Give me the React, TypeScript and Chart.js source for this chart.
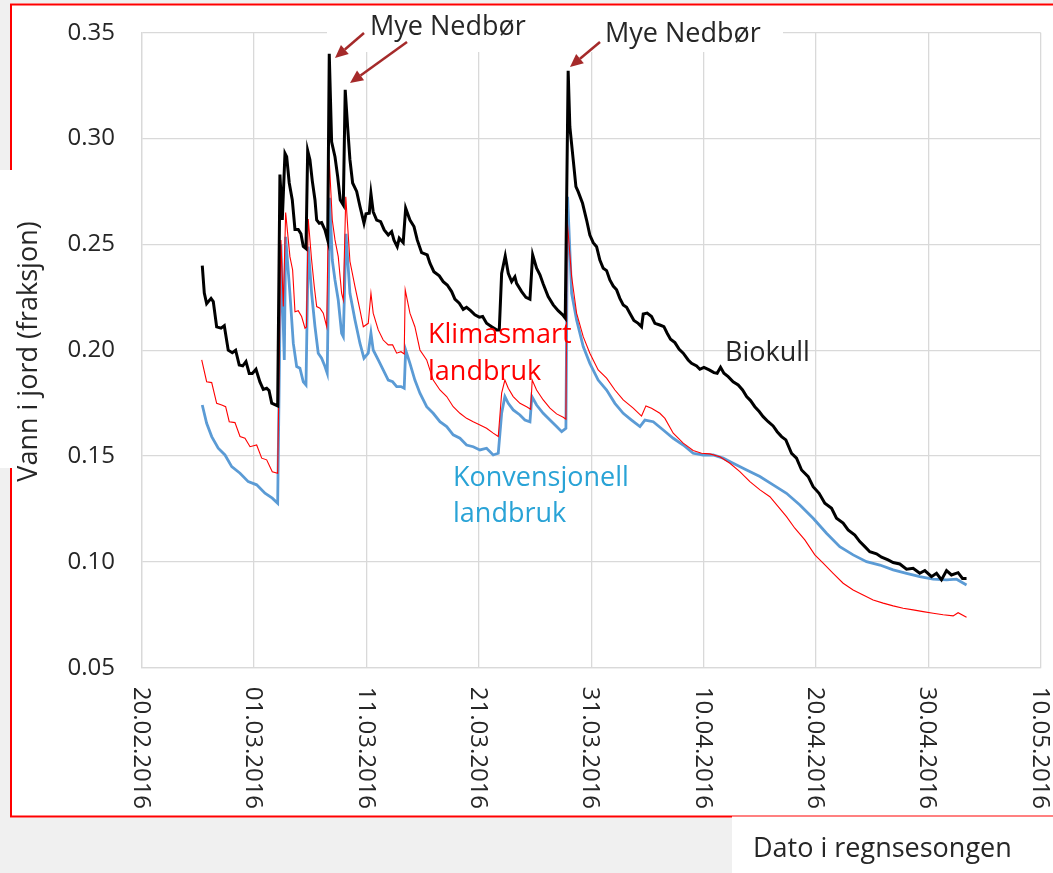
import { useEffect, useRef } from "react";
import { Chart, registerables } from "chart.js";

Chart.register(...registerables);

const W = 1053;
const H = 873;

// x = days since 20.02.2016 00:00
const X_TICK_LABELS = [
  "20.02.2016", "01.03.2016", "11.03.2016", "21.03.2016", "31.03.2016",
  "10.04.2016", "20.04.2016", "30.04.2016", "10.05.2016",
];

const BIOKULL_DAYS = [5.39,5.57,5.78,6.17,6.37,6.67,7.06,7.35,7.70,8.06,8.36,8.68,8.99,9.28,9.57,9.84,10.17,10.52,10.82,11.12,11.33,11.57,12.10,12.30,12.51,12.75,12.90,13.13,13.40,13.64,13.93,14.17,14.38,14.62,14.77,14.97,15.18,15.42,15.57,15.80,16.01,16.31,16.55,16.69,16.90,17.20,17.44,17.67,17.94,18.11,18.33,18.53,18.77,19.13,19.42,19.78,19.96,20.25,20.40,20.60,20.91,21.26,21.58,21.94,22.24,22.45,22.74,22.92,23.27,23.49,23.87,24.23,24.52,24.91,25.41,25.65,26.00,26.48,26.83,27.19,27.58,27.87,28.26,28.61,28.91,29.27,29.65,30.04,30.34,30.69,31.14,31.58,31.82,32.03,32.35,32.62,32.92,33.21,33.36,33.81,34.19,34.55,34.79,35.14,35.44,35.73,36.17,36.62,37.06,37.46,37.69,37.95,38.10,38.40,38.64,38.84,39.23,39.59,39.88,40.18,40.48,40.77,41.07,41.37,41.66,41.96,42.26,42.55,42.85,43.15,43.44,43.80,44.18,44.48,44.63,44.98,45.37,45.67,46.11,46.47,46.76,47.06,47.45,47.83,48.19,48.63,48.93,49.38,49.67,50.03,50.50,50.92,51.21,51.51,51.81,52.19,52.63,53.08,53.47,53.83,54.18,54.56,54.95,55.30,55.75,56.19,56.55,56.94,57.32,57.83,58.27,58.72,59.31,59.75,60.28,60.79,61.39,61.83,62.42,62.86,63.46,63.90,64.35,64.79,65.39,65.84,66.42,66.87,67.46,68.06,68.65,69.24,69.69,70.28,70.73,71.17,71.62,72.06,72.65,73.04,73.40];
const BIOKULL_VALUES = [0.240,0.227,0.222,0.2245,0.223,0.211,0.2104,0.2116,0.200,0.1988,0.200,0.193,0.1926,0.1946,0.189,0.189,0.191,0.185,0.1815,0.182,0.181,0.175,0.1737,0.283,0.2615,0.293,0.2914,0.279,0.271,0.257,0.257,0.255,0.249,0.248,0.2943,0.290,0.280,0.271,0.2615,0.260,0.2603,0.2568,0.252,0.340,0.2985,0.2914,0.282,0.271,0.2686,0.323,0.305,0.290,0.279,0.275,0.268,0.260,0.2644,0.2647,0.274,0.2654,0.2615,0.2607,0.2568,0.2544,0.256,0.252,0.2489,0.2529,0.2508,0.2671,0.2615,0.2584,0.2521,0.2461,0.245,0.2411,0.2371,0.2351,0.2324,0.2308,0.2277,0.2241,0.2222,0.2193,0.2203,0.2187,0.2167,0.2156,0.2159,0.2127,0.2111,0.2096,0.2096,0.2363,0.2445,0.2363,0.2324,0.2347,0.2316,0.2277,0.225,0.2241,0.245,0.2387,0.2356,0.2313,0.2253,0.2214,0.2187,0.2167,0.2151,0.332,0.3056,0.2899,0.2773,0.2749,0.2694,0.2615,0.2544,0.2508,0.2489,0.2426,0.2387,0.2376,0.2332,0.2303,0.2285,0.2245,0.2214,0.2203,0.2175,0.214,0.2127,0.2111,0.2171,0.2175,0.2159,0.2127,0.2119,0.2111,0.208,0.2052,0.2036,0.2004,0.1986,0.1954,0.1938,0.1926,0.191,0.1919,0.1907,0.1894,0.1891,0.1919,0.1891,0.1875,0.1851,0.1836,0.1812,0.1781,0.1762,0.1733,0.171,0.1686,0.1662,0.1642,0.1615,0.1592,0.1576,0.1513,0.149,0.1434,0.1403,0.1355,0.1324,0.1277,0.1253,0.1206,0.1183,0.1151,0.1127,0.1096,0.1072,0.1048,0.1038,0.1022,0.1009,0.0997,0.099,0.0965,0.097,0.0946,0.0959,0.093,0.0946,0.0915,0.0959,0.0938,0.0949,0.0922,0.0922];

const KLIMA_DAYS = [5.34,5.78,6.23,6.67,7.12,7.47,7.79,8.30,8.75,9.19,9.64,10.23,10.68,11.12,11.62,12.10,12.39,12.60,12.81,13.19,13.43,13.64,13.93,14.23,14.53,14.66,14.82,15.12,15.36,15.57,15.86,16.16,16.46,16.69,16.96,17.20,17.49,17.79,17.94,18.16,18.53,18.98,19.42,19.72,20.16,20.40,20.60,21.05,21.49,21.94,22.33,22.69,23.07,23.36,23.45,23.87,24.31,24.76,25.36,25.94,26.54,27.14,27.72,28.32,28.91,29.50,30.10,30.69,31.28,31.73,32.03,32.32,32.62,33.06,33.66,34.25,34.61,34.75,35.14,35.73,36.33,36.92,37.51,37.75,37.86,38.26,38.70,39.29,39.88,40.62,41.37,42.11,42.85,43.74,44.48,44.87,45.37,46.11,46.56,47.30,48.19,49.07,49.82,50.56,51.45,52.34,53.23,54.12,55.02,55.90,56.64,57.38,58.12,59.01,59.90,60.64,61.53,62.42,63.31,64.20,65.09,65.98,66.87,67.76,68.65,69.54,70.43,71.32,72.21,72.65,73.40];
const KLIMA_VALUES = [0.1954,0.1851,0.1847,0.1749,0.1741,0.1733,0.1662,0.1658,0.1592,0.1584,0.1544,0.1552,0.149,0.1482,0.1426,0.1419,0.2521,0.2206,0.265,0.2442,0.2379,0.2182,0.2187,0.2159,0.2104,0.211,0.262,0.2426,0.23,0.2206,0.2198,0.2175,0.2111,0.2899,0.2615,0.2521,0.2442,0.2269,0.2237,0.2725,0.242,0.23,0.219,0.2111,0.2127,0.2269,0.2175,0.2096,0.2048,0.2025,0.2025,0.1986,0.1993,0.1982,0.2285,0.2175,0.2111,0.2001,0.1954,0.1859,0.1812,0.1781,0.1733,0.1702,0.1678,0.1662,0.1647,0.1631,0.1608,0.1592,0.1797,0.1859,0.182,0.1781,0.1749,0.1733,0.1721,0.1859,0.1812,0.1765,0.1726,0.1699,0.1683,0.1674,0.2615,0.2347,0.2175,0.2064,0.1986,0.1907,0.1868,0.1812,0.1765,0.1726,0.1689,0.1737,0.1726,0.1702,0.1678,0.1608,0.1561,0.1526,0.1513,0.151,0.1497,0.1466,0.1426,0.1379,0.134,0.1308,0.1261,0.1214,0.1159,0.1104,0.1033,0.0994,0.0946,0.0899,0.0867,0.0844,0.082,0.0805,0.0792,0.0781,0.0773,0.0765,0.0757,0.075,0.0745,0.076,0.0738];

const KONV_DAYS = [5.39,5.78,6.23,6.81,7.41,8.01,8.75,9.48,10.23,10.97,11.62,12.10,12.39,12.69,12.81,13.19,13.49,13.79,14.08,14.38,14.62,14.82,15.12,15.42,15.71,16.01,16.31,16.51,16.73,16.96,17.20,17.49,17.79,17.94,18.18,18.53,18.98,19.42,19.78,20.16,20.40,20.60,21.05,21.49,21.94,22.33,22.69,23.07,23.36,23.49,23.87,24.31,24.76,25.36,25.94,26.54,27.14,27.72,28.32,28.91,29.50,30.10,30.69,31.28,31.73,32.03,32.32,32.62,33.06,33.66,34.10,34.55,34.72,35.14,35.73,36.33,36.92,37.37,37.75,37.90,38.26,38.70,39.29,39.88,40.62,41.37,42.11,42.85,43.59,44.34,44.78,45.52,46.41,47.30,48.19,49.07,49.96,50.85,51.74,52.63,53.83,55.01,56.19,57.38,58.57,59.75,60.94,62.12,63.31,64.50,65.69,66.87,68.06,69.24,70.43,71.62,72.51,73.40];
const KONV_VALUES = [0.1741,0.1655,0.1592,0.1537,0.1505,0.145,0.1419,0.1379,0.1364,0.1324,0.1301,0.1277,0.25,0.1954,0.2536,0.2269,0.2033,0.1923,0.1915,0.1851,0.1836,0.2489,0.2269,0.2111,0.1986,0.1962,0.1923,0.1891,0.272,0.2426,0.2332,0.2237,0.208,0.2064,0.255,0.2269,0.2143,0.2033,0.1962,0.1986,0.208,0.2001,0.1954,0.1907,0.1859,0.1851,0.1828,0.1828,0.182,0.2001,0.1938,0.1859,0.1797,0.1733,0.1702,0.1662,0.1639,0.16,0.1584,0.1552,0.1544,0.1529,0.1537,0.1505,0.1513,0.1702,0.1781,0.1749,0.1718,0.1694,0.167,0.1662,0.1781,0.1741,0.1702,0.167,0.1639,0.1615,0.1631,0.2725,0.2269,0.2143,0.2017,0.1938,0.1859,0.1812,0.1749,0.1702,0.167,0.1639,0.167,0.1662,0.1623,0.1584,0.1552,0.1513,0.1505,0.1505,0.149,0.1466,0.1434,0.1403,0.1364,0.1324,0.1269,0.1206,0.1135,0.1072,0.1033,0.1001,0.0985,0.0962,0.0946,0.093,0.0918,0.0915,0.0918,0.0891];

const SERIES_LABELS = ["Biokull", "Klimasmart landbruk", "Konvensjonell landbruk"];

function toPoints(days: number[], values: number[]) {
  const n = Math.min(days.length, values.length);
  const pts: { x: number; y: number }[] = [];
  for (let i = 0; i < n; i++) pts.push({ x: days[i], y: values[i] });
  return pts;
}

const TEXT = "#262626";
const FONT = '"Open Sans", "DejaVu Sans", sans-serif';
const PAD_TOP = 32.7;

function drawArrow(ctx: CanvasRenderingContext2D, x1: number, y1: number, x2: number, y2: number) {
  const ang = Math.atan2(y2 - y1, x2 - x1);
  const hl = 13;
  const hw = 6;
  const bx = x2 - hl * Math.cos(ang);
  const by = y2 - hl * Math.sin(ang);
  ctx.beginPath();
  ctx.moveTo(x1, y1);
  ctx.lineTo(bx, by);
  ctx.stroke();
  ctx.beginPath();
  ctx.moveTo(x2, y2);
  ctx.lineTo(bx + hw * Math.sin(ang), by - hw * Math.cos(ang));
  ctx.lineTo(bx - hw * Math.sin(ang), by + hw * Math.cos(ang));
  ctx.closePath();
  ctx.fill();
}

const decorPlugin = {
  id: "decor",
  beforeDraw(chart: any) {
    const ctx = chart.ctx as CanvasRenderingContext2D;
    ctx.save();
    ctx.fillStyle = "#f0f0f0";
    ctx.fillRect(0, 0, W, H);
    ctx.fillStyle = "#ffffff";
    ctx.fillRect(10, 3.5, W, 814);
    ctx.strokeStyle = "#ff0000";
    ctx.lineWidth = 2;
    ctx.strokeRect(11, 4.5, W + 20, 812);
    ctx.fillStyle = "#ffffff";
    ctx.fillRect(0, 170, 45, 298);
    ctx.fillRect(732, 816.5, W - 732, H - 816.5);
    ctx.restore();
  },
  beforeDatasetsDraw(chart: any) {
    const ctx = chart.ctx as CanvasRenderingContext2D;
    ctx.save();
    ctx.fillStyle = "#ffffff";
    ctx.fillRect(327, 6, 783 - 327, 46);
    ctx.restore();
  },
  afterDraw(chart: any) {
    const ctx = chart.ctx as CanvasRenderingContext2D;
    const xs = chart.scales.x;
    const area = chart.chartArea;
    ctx.save();
    // x tick labels, rotated clockwise
    ctx.fillStyle = TEXT;
    ctx.font = `24px ${FONT}`;
    ctx.textAlign = "left";
    ctx.textBaseline = "middle";
    xs.ticks.forEach((t: any, i: number) => {
      const label = X_TICK_LABELS[i];
      if (!label) return;
      const px = xs.getPixelForValue(t.value);
      ctx.save();
      ctx.translate(px - 1, area.bottom + 19);
      ctx.rotate(Math.PI / 2);
      ctx.fillText(label, 0, 0);
      ctx.restore();
    });

    ctx.font = `27px ${FONT}`;
    ctx.textBaseline = "alphabetic";
    ctx.textAlign = "left";
    ctx.fillStyle = TEXT;
    ctx.fillText("Mye Nedbør", 370, 35);
    ctx.fillText("Mye Nedbør", 605, 42);
    ctx.fillText("Biokull", 725, 361);
    ctx.fillText("Dato i regnsesongen", 753, 857);

    ctx.fillStyle = "#ff0000";
    ctx.fillText("Klimasmart", 428, 343);
    ctx.fillText("landbruk", 428, 380);

    ctx.fillStyle = "#29a3d6";
    ctx.fillText("Konvensjonell", 453, 486);
    ctx.fillText("landbruk", 453, 522);

    // y axis title
    ctx.save();
    ctx.fillStyle = TEXT;
    ctx.translate(37, 351.5);
    ctx.rotate(-Math.PI / 2);
    ctx.textAlign = "center";
    ctx.fillText("Vann i jord (fraksjon)", 0, 0);
    ctx.restore();

    // arrows
    ctx.strokeStyle = "#a52a2a";
    ctx.fillStyle = "#a52a2a";
    ctx.lineWidth = 2.5;
    drawArrow(ctx, 364, 33, 335, 58);
    drawArrow(ctx, 407, 42, 350, 83);
    drawArrow(ctx, 600, 42, 570, 67);
    ctx.restore();
  },
};

export default function App() {
  const canvasRef = useRef<HTMLCanvasElement | null>(null);

  useEffect(() => {
    let chart: Chart | null = null;
    let cancelled = false;
    const build = () => {
      if (cancelled || !canvasRef.current) return;
      chart = new Chart(canvasRef.current, {
        type: "line",
        data: {
          datasets: [
            {
              label: SERIES_LABELS[0],
              data: toPoints(BIOKULL_DAYS, BIOKULL_VALUES),
              borderColor: "#000000",
              borderWidth: 3,
              pointRadius: 0,
              tension: 0,
            },
            {
              label: SERIES_LABELS[1],
              data: toPoints(KLIMA_DAYS, KLIMA_VALUES),
              borderColor: "#ff0000",
              borderWidth: 1.1,
              pointRadius: 0,
              tension: 0,
            },
            {
              label: SERIES_LABELS[2],
              data: toPoints(KONV_DAYS, KONV_VALUES),
              borderColor: "#5b9bd5",
              borderWidth: 2.8,
              pointRadius: 0,
              tension: 0,
            },
          ],
        },
        options: {
          responsive: false,
          animation: false,
          devicePixelRatio: 1,
          layout: { padding: { left: 0, top: PAD_TOP, right: 12.3, bottom: 205.3 } },
          plugins: { legend: { display: false }, tooltip: { enabled: false } },
          scales: {
            x: {
              type: "linear",
              min: 0,
              max: 80,
              ticks: { stepSize: 10, display: false },
              grid: { color: "#d9d9d9", lineWidth: 1.3, drawTicks: false },
              border: { color: "#d9d9d9", width: 1.3 },
              afterFit: (s: any) => { s.height = 0; s.paddingLeft = 0; s.paddingRight = 0; },
            },
            y: {
              min: 0.05,
              max: 0.35,
              ticks: {
                stepSize: 0.05,
                padding: 26.7,
                color: TEXT,
                font: { family: FONT, size: 24 },
                callback: (v: any) => Number(v).toFixed(2),
              },
              grid: { color: "#d9d9d9", lineWidth: 1.3, drawTicks: false },
              border: { color: "#d9d9d9", width: 1.3 },
              afterFit: (s: any) => { s.width = 141.7; s.paddingTop = 0; s.paddingBottom = 0; },
            },
          },
        },
        plugins: [decorPlugin],
      } as any);
    };
    const fonts: any = (document as any).fonts;
    if (fonts && fonts.load) {
      Promise.all([
        fonts.load('24px "Open Sans"'),
        fonts.load('27px "Open Sans"'),
      ]).then(build, build);
    } else {
      build();
    }
    return () => {
      cancelled = true;
      if (chart) chart.destroy();
    };
  }, []);

  return (
    <div style={{ position: "absolute", left: 0, top: 0, width: W, height: H }}>
      <canvas ref={canvasRef} width={W} height={H} style={{ display: "block", width: W, height: H }} />
    </div>
  );
}
